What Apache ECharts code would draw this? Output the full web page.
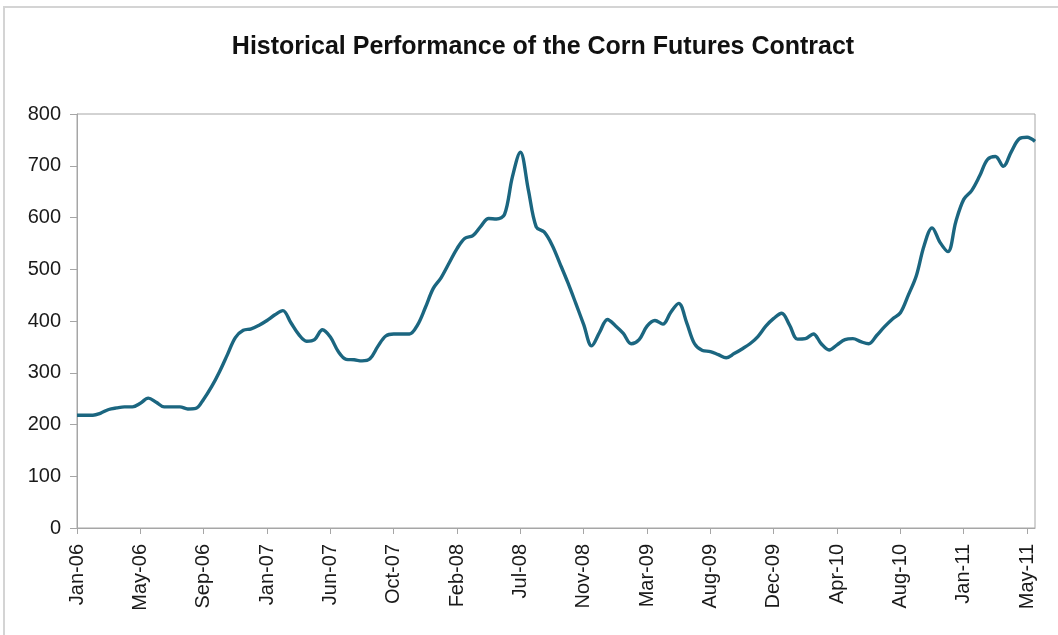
<!DOCTYPE html>
<html>
<head>
<meta charset="utf-8">
<script src="https://cdn.jsdelivr.net/npm/echarts@6/dist/echarts.min.js"></script>
<style>
html,body{margin:0;padding:0;background:#fff;}
#chart{width:1058px;height:635px;}
</style>
</head>
<body>
<div id="chart"></div>
<script>
// Tick labels shown on the x axis (one every 8 data points)
const tickLabels = ["Jan-06","May-06","Sep-06","Jan-07","Jun-07","Oct-07","Feb-08","Jul-08",
  "Nov-08","Mar-09","Aug-09","Dec-09","Apr-10","Aug-10","Jan-11","May-11"];

// Corn futures price (cents/bushel), 122 points
const prices = [
  218,218,218,222,229,232,234,234,241,251,
  243,234,234,234,230,231,249,273,302,335,
  368,382,385,392,401,412,420,397,374,361,
  364,383,369,341,326,325,323,327,351,371,
  375,375,375,392,426,463,484,512,540,560,
  565,583,598,597,606,679,726,654,582,572,
  547,511,474,434,393,352,378,403,391,376,
  356,364,390,401,394,417,434,397,356,343,
  341,335,329,337,346,356,370,390,405,415,
  392,365,366,375,356,344,354,364,366,360,
  356,372,389,404,416,450,487,546,580,552,
  534,592,635,652,680,712,718,699,727,752,
  755,747
];

const yTicks = [0,100,200,300,400,500,600,700,800];

// Category axis built from tick labels: each label followed by unlabeled points
const perLabel = 8;
const categories = [];
tickLabels.forEach((t, k) => {
  categories.push(t);
  const n = (k < tickLabels.length - 1) ? perLabel - 1 : prices.length - (tickLabels.length - 1) * perLabel - 1;
  for (let j = 1; j <= n; j++) categories.push(t + "_" + j);
});

const chart = echarts.init(document.getElementById('chart'), null, {renderer: 'canvas'});
chart.setOption({
  backgroundColor: '#ffffff',
  animation: false,
  title: {
    text: 'Historical Performance of the Corn Futures Contract',
    left: 538,
    top: 30,
    textAlign: 'center',
    textStyle: {fontFamily: 'Liberation Sans', fontWeight: 'bold', fontSize: 25, color: '#111'}
  },
  graphic: [{
    type: 'rect',
    shape: {x: 4, y: 7, width: 1070, height: 640},
    style: {fill: 'none', stroke: '#d4d4d4', lineWidth: 2},
    silent: true
  }],
  grid: {
    left: 77, right: 23, top: 114, bottom: 107,
    show: true, borderColor: '#a6a6a6', borderWidth: 1, backgroundColor: 'transparent'
  },
  xAxis: {
    type: 'category',
    data: categories,
    boundaryGap: false,
    axisLine: {lineStyle: {color: '#a6a6a6', width: 1}},
    axisTick: {show: true, interval: perLabel - 1, length: 6, lineStyle: {color: '#a6a6a6'}},
    axisLabel: {
      interval: perLabel - 1, rotate: 90, margin: 16,
      fontFamily: 'Liberation Sans', fontSize: 20, color: '#1a1a1a'
    },
    splitLine: {show: false}
  },
  yAxis: {
    type: 'value',
    min: yTicks[0], max: yTicks[yTicks.length - 1], interval: 100,
    axisLine: {show: true, lineStyle: {color: '#a6a6a6', width: 1}},
    axisTick: {show: true, length: 7, lineStyle: {color: '#a6a6a6'}},
    axisLabel: {margin: 16, fontFamily: 'Liberation Sans', fontSize: 20, color: '#1a1a1a'},
    splitLine: {show: false}
  },
  series: [{
    type: 'line',
    data: prices,
    smooth: 0.35,
    symbol: 'none',
    lineStyle: {color: '#1b6680', width: 3.4}
  }]
});
</script>
</body>
</html>
